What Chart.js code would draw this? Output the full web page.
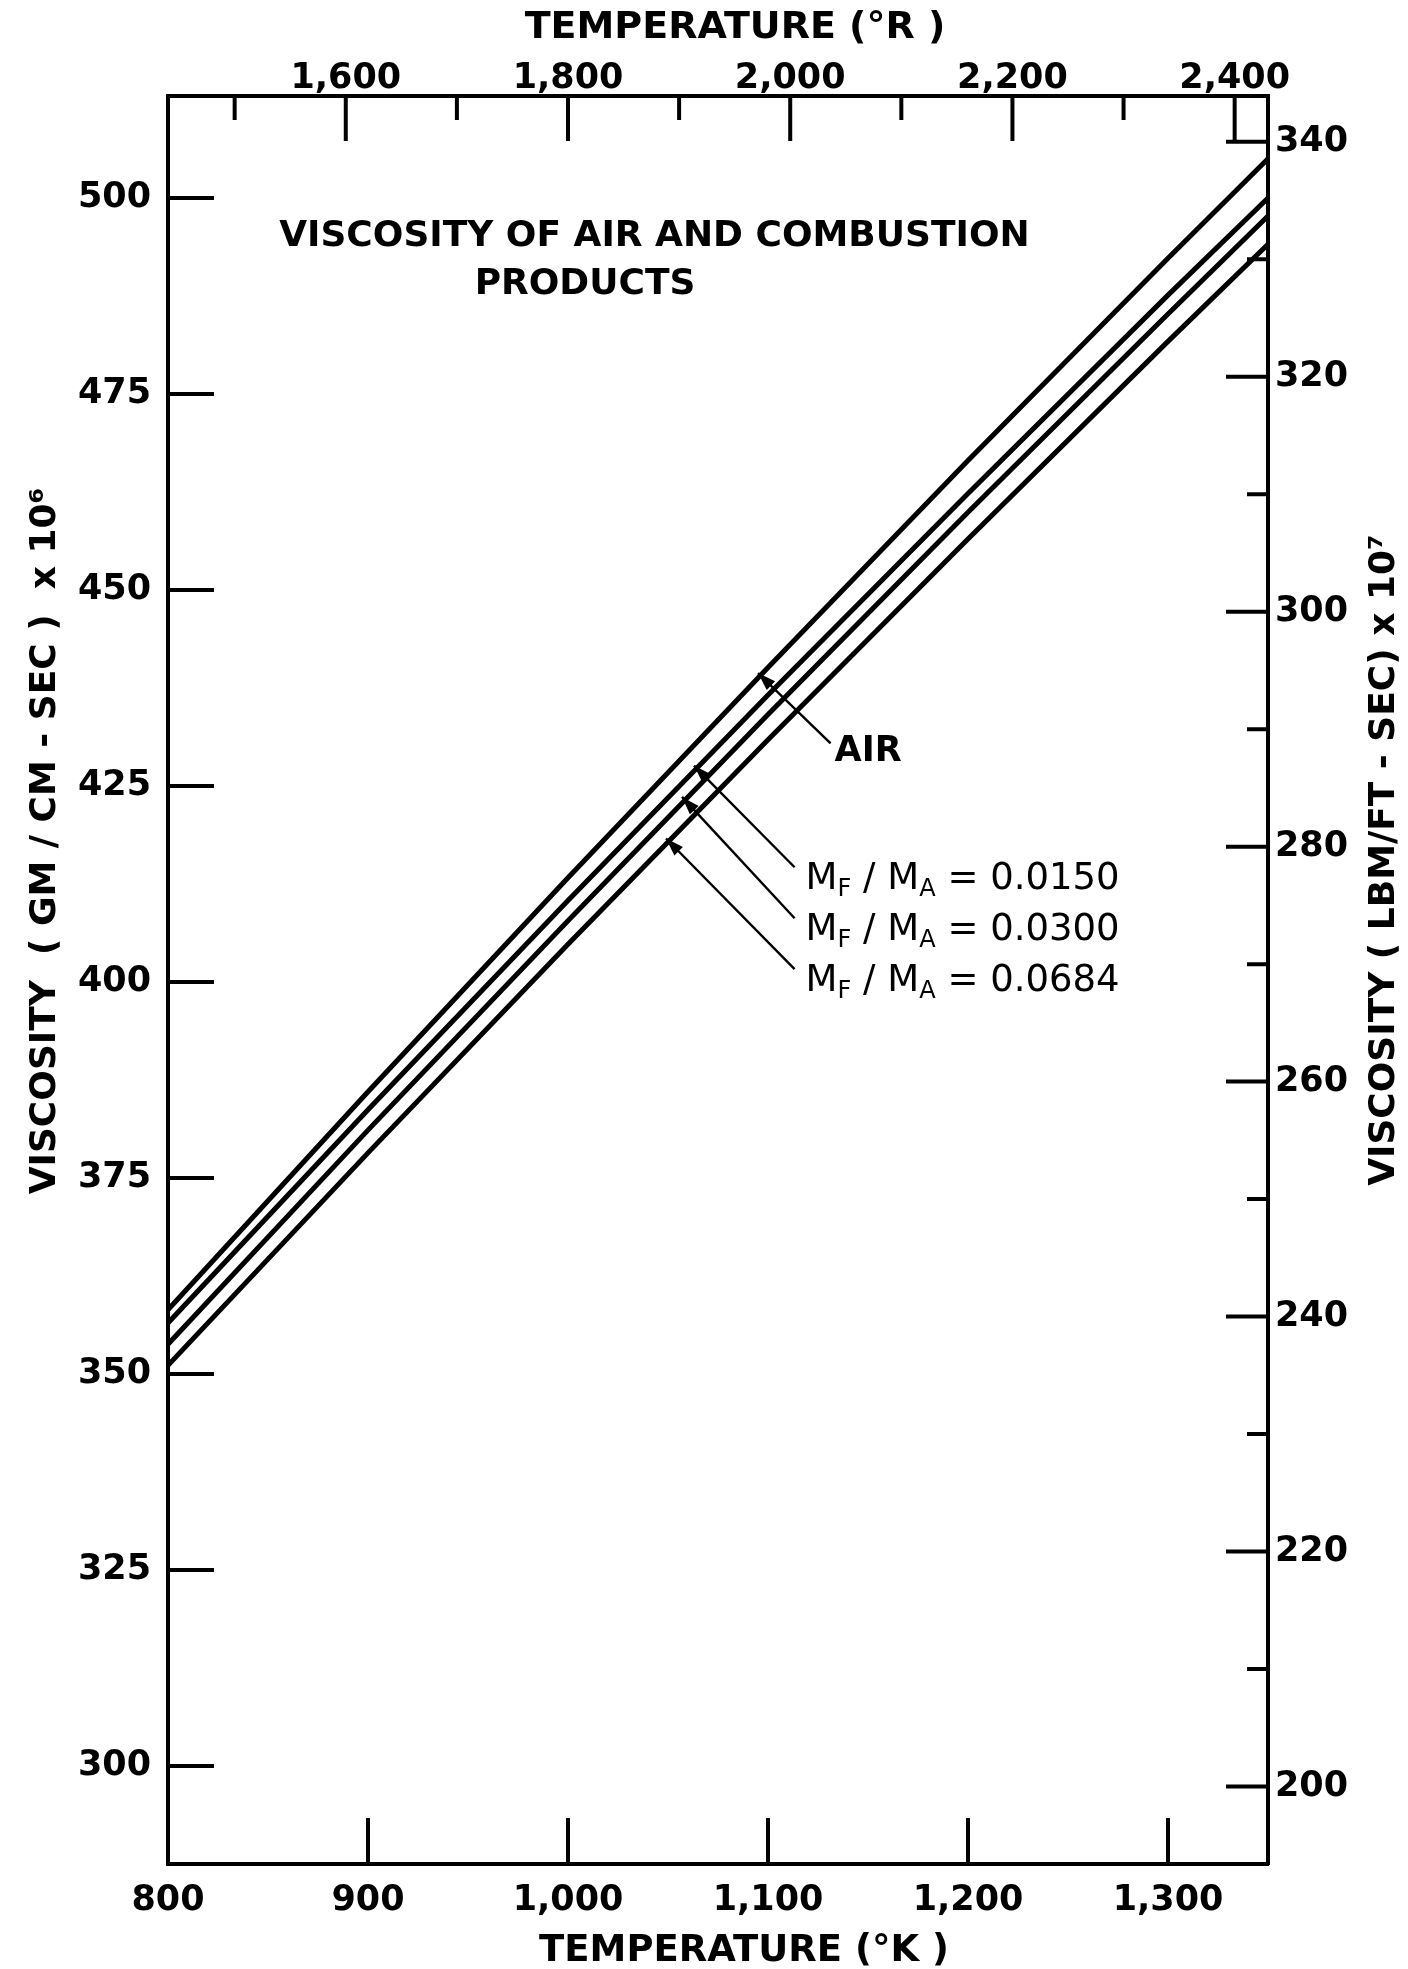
<!DOCTYPE html>
<html>
<head>
<meta charset="utf-8">
<script src="https://cdn.jsdelivr.net/npm/chart.js@4.4.1/dist/chart.umd.min.js"></script>
<style>
  html, body { margin: 0; padding: 0; background: #fff; }
  #wrap { width: 1408px; height: 1969px; position: relative; }
</style>
</head>
<body>
<div id="wrap"><canvas id="chart"></canvas></div>
<script>
// temperature (deg K) and viscosity (gm/cm-sec x 10^6)
const tempK    = [800, 900, 1000, 1100, 1200, 1300, 1350];
const viscAir  = [358.2, 386.0, 413.3, 440.1, 466.5, 492.3, 505.0];
const visc0150 = [356.5, 383.7, 410.4, 436.6, 462.3, 487.6, 500.0];
const visc0300 = [353.8, 381.1, 407.8, 434.1, 459.9, 485.2, 497.7];
const visc0684 = [351.1, 378.2, 404.8, 430.9, 456.5, 481.7, 494.1];
const seriesNames = ['AIR', 'MF/MA = 0.0150', 'MF/MA = 0.0300', 'MF/MA = 0.0684'];

// axis ticks
const ticksK    = [800, 900, 1000, 1100, 1200, 1300];
const ticksR    = [1500, 1600, 1700, 1800, 1900, 2000, 2100, 2200, 2300, 2400];
const ticksGm   = [300, 325, 350, 375, 400, 425, 450, 475, 500];
const ticksLbm  = [200, 210, 220, 230, 240, 250, 260, 270, 280, 290, 300, 310, 320, 330, 340];

// axis ranges
const K_TO_R = 1.8;
const kMin = 800, kMax = 1350;
const gmMin = 287.5, gmMax = 513;
const lbmMin = 193.4, lbmMax = 343.9;

// callouts: label, arrow tip and text anchor in data units
const noteLabels  = ['AIR', '0.0150', '0.0300', '0.0684'];
const noteTipK    = [1095, 1063, 1057, 1049];
const noteTipGm   = [439.4, 427.6, 423.6, 418.3];
const noteTextK   = [1133.3, 1118.8, 1118.8, 1118.8];
const noteTextGm  = [429.4, 413.1, 406.6, 400.1];

const titleLines = ['VISCOSITY OF AIR AND COMBUSTION', 'PRODUCTS'];
const titleK     = [1043.2, 1008.5];
const titleGm    = [495.0, 488.9];

const FONT = '"DejaVu Sans", sans-serif';
const tickFont = { family: FONT, size: 35, weight: 'bold' };

const series = [viscAir, visc0150, visc0300, visc0684];

const isStep = (v, s) => Math.abs(v - Math.round(v / s) * s) < 1e-6;

const inwardTicks = {
  id: 'inwardTicks',
  afterDatasetsDraw(chart) {
    const { ctx, chartArea: a, scales } = chart;
    ctx.save();
    ctx.strokeStyle = '#000';
    ctx.lineWidth = 4;
    ctx.beginPath();
    scales.y.ticks.forEach(t => {
      const p = scales.y.getPixelForValue(t.value);
      ctx.moveTo(a.left, p); ctx.lineTo(a.left + 46, p);
    });
    scales.y2.ticks.forEach(t => {
      const p = scales.y2.getPixelForValue(t.value);
      const len = isStep(t.value, 20) ? 42 : 21;
      ctx.moveTo(a.right, p); ctx.lineTo(a.right - len, p);
    });
    scales.x.ticks.forEach(t => {
      if (t.value === kMin) return;
      const p = scales.x.getPixelForValue(t.value);
      ctx.moveTo(p, a.bottom); ctx.lineTo(p, a.bottom - 46);
    });
    scales.x2.ticks.forEach(t => {
      const p = scales.x2.getPixelForValue(t.value);
      const len = isStep(t.value, 200) ? 45 : 24;
      ctx.moveTo(p, a.top); ctx.lineTo(p, a.top + len);
    });
    ctx.stroke();
    ctx.restore();
  }
};

function drawMF(ctx, x, y, value) {
  const big = '37px ' + FONT, small = '24px ' + FONT;
  let cx = x;
  const part = (txt, font, dy) => {
    ctx.font = font;
    ctx.fillText(txt, cx, y + dy);
    cx += ctx.measureText(txt).width;
  };
  part('M', big, 0); part('F', small, 11);
  part(' / ', big, 0);
  part('M', big, 0); part('A', small, 11);
  part(' = ' + value, big, 0);
}

const notes = {
  id: 'notes',
  afterDraw(chart) {
    const { ctx, scales: { x, y } } = chart;
    ctx.save();
    ctx.fillStyle = '#000';
    ctx.strokeStyle = '#000';

    // chart title
    ctx.font = 'bold 36px ' + FONT;
    ctx.textAlign = 'center';
    ctx.textBaseline = 'middle';
    titleLines.forEach((t, i) => ctx.fillText(t, x.getPixelForValue(titleK[i]), y.getPixelForValue(titleGm[i])));

    // callouts with arrows
    ctx.textAlign = 'left';
    noteLabels.forEach((lab, i) => {
      const tx = x.getPixelForValue(noteTipK[i]), ty = y.getPixelForValue(noteTipGm[i]);
      const px = x.getPixelForValue(noteTextK[i]), py = y.getPixelForValue(noteTextGm[i]);
      const ex = px - (i === 0 ? 4 : 11), ey = py - (i === 0 ? 8 : 12);
      ctx.lineWidth = 2.4;
      ctx.beginPath(); ctx.moveTo(ex, ey); ctx.lineTo(tx, ty); ctx.stroke();
      const ang = Math.atan2(ty - ey, tx - ex);
      ctx.beginPath();
      ctx.moveTo(tx, ty);
      ctx.lineTo(tx - 18 * Math.cos(ang) + 6 * Math.sin(ang), ty - 18 * Math.sin(ang) - 6 * Math.cos(ang));
      ctx.lineTo(tx - 18 * Math.cos(ang) - 6 * Math.sin(ang), ty - 18 * Math.sin(ang) + 6 * Math.cos(ang));
      ctx.closePath(); ctx.fill();
      if (i === 0) {
        ctx.font = 'bold 35px ' + FONT;
        ctx.fillText(lab, px, py);
      } else {
        drawMF(ctx, px, py, lab);
      }
    });

    // axis titles
    ctx.font = 'bold 38px ' + FONT;
    ctx.textAlign = 'center';
    ctx.fillText('TEMPERATURE (°R )', 735, 28);
    ctx.font = 'bold 37px ' + FONT;
    ctx.fillText('TEMPERATURE (°K )', 744, 1951);
    ctx.font = 'bold 36px ' + FONT;
    ctx.save();
    ctx.translate(46, 841); ctx.rotate(-Math.PI / 2);
    ctx.fillText('VISCOSITY  ( GM / CM - SEC )  x 10⁶', 0, 0);
    ctx.restore();
    ctx.save();
    ctx.translate(1385, 860); ctx.rotate(-Math.PI / 2);
    ctx.fillText('VISCOSITY ( LBM/FT - SEC) x 10⁷', 0, 0);
    ctx.restore();
    ctx.restore();
  }
};

const axisBase = {
  type: 'linear',
  grid: { display: false, drawTicks: false },
  border: { display: true, color: '#000', width: 4 },
  ticks: { color: '#000', font: tickFont, autoSkip: false, maxRotation: 0 }
};

new Chart(document.getElementById('chart'), {
  type: 'line',
  data: {
    datasets: series.map((s, i) => ({
      label: seriesNames[i],
      data: tempK.map((t, j) => ({ x: t, y: s[j] })),
      borderColor: '#000',
      borderWidth: 5,
      pointRadius: 0,
      tension: 0,
      fill: false,
      xAxisID: 'x',
      yAxisID: 'y'
    }))
  },
  options: {
    responsive: true,
    maintainAspectRatio: false,
    animation: false,
    layout: { padding: 0 },
    plugins: { legend: { display: false }, tooltip: { enabled: false } },
    scales: {
      x: {
        ...axisBase, position: 'bottom', min: kMin, max: kMax,
        afterFit: s => { s.height = 105; },
        afterBuildTicks: s => { s.ticks = ticksK.map(v => ({ value: v })); },
        ticks: { ...axisBase.ticks, padding: 16, callback: v => v.toLocaleString('en-US') }
      },
      x2: {
        ...axisBase, position: 'top', min: kMin * K_TO_R, max: kMax * K_TO_R,
        afterFit: s => { s.height = 96; },
        afterBuildTicks: s => { s.ticks = ticksR.map(v => ({ value: v })); },
        ticks: { ...axisBase.ticks, padding: -4, callback: v => isStep(v, 200) ? v.toLocaleString('en-US') : '' }
      },
      y: {
        ...axisBase, position: 'left', min: gmMin, max: gmMax,
        afterFit: s => { s.width = 168; },
        afterBuildTicks: s => { s.ticks = ticksGm.map(v => ({ value: v })); },
        ticks: { ...axisBase.ticks, padding: 17 }
      },
      y2: {
        ...axisBase, position: 'right', min: lbmMin, max: lbmMax,
        afterFit: s => { s.width = 140; },
        afterBuildTicks: s => { s.ticks = ticksLbm.map(v => ({ value: v })); },
        ticks: { ...axisBase.ticks, padding: 7, callback: v => isStep(v, 20) ? String(v) : '' }
      }
    }
  },
  plugins: [inwardTicks, notes]
});
</script>
</body>
</html>
